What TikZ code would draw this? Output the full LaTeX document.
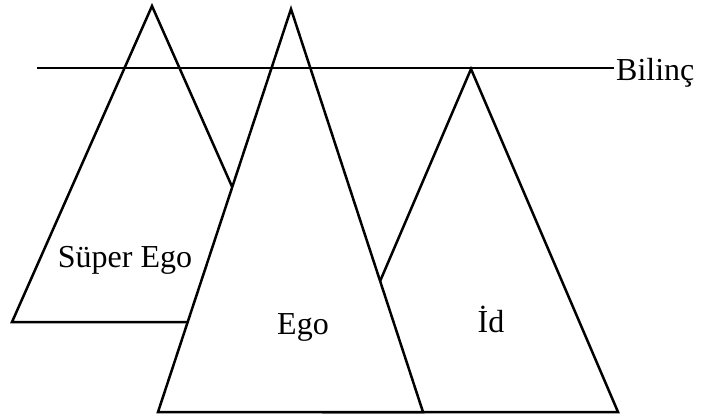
\documentclass[tikz,border=0pt]{standalone}
\usepackage{fontspec}
\setmainfont{Liberation Serif}
\begin{document}
\begin{tikzpicture}[x=1pt,y=-1pt,
  tri/.style={draw=black,fill=white,line width=2.5pt,line join=miter},
  lbl/.style={font=\fontsize{32}{38}\selectfont,anchor=base,inner sep=0pt}]
\useasboundingbox (0,0) rectangle (701,418);
% Super Ego
\coordinate (sA) at (152,6);
\coordinate (sL) at (12,322);
\coordinate (sR) at (292,322);
\draw[tri] (sA) -- (sL) -- (sR) -- cycle;
% Id
\coordinate (iA) at (471,69);
\coordinate (iL) at (324,412);
\coordinate (iR) at (618,412);
\draw[tri] (iA) -- (iL) -- (iR) -- cycle;
% Ego
\coordinate (eA) at (291,9);
\coordinate (eL) at (158,412);
\coordinate (eR) at (423,412);
\draw[tri] (eA) -- (eL) -- (eR) -- cycle;
% labels
\node[lbl] (superego) at (125,267) {Süper Ego};
\node[lbl] (ego) at (303,334) {Ego};
\node[lbl] (id) at (491,332) {İd};
\node[lbl,anchor=base west] (bilinc) at (616,80) {Bilinç};
% consciousness line
\coordinate (lineL) at (37,68);
\coordinate (lineR) at (614,68);
\draw[line width=1.3pt] (lineL) -- (lineR);
\end{tikzpicture}
\end{document}
